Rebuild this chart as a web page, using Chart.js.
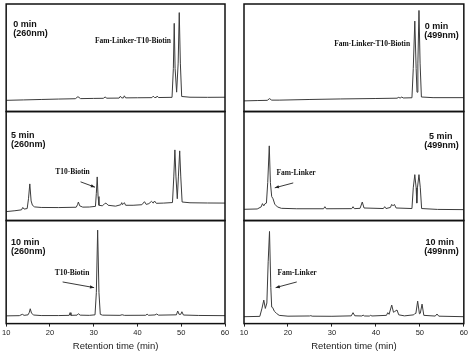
<!DOCTYPE html>
<html><head><meta charset="utf-8">
<script src="https://cdn.jsdelivr.net/npm/chart.js@4"></script>
<style>
html,body{margin:0;padding:0;background:#fff;}
#wrap{position:relative;width:470px;height:353px;overflow:hidden;background:#fff;}
canvas{position:absolute;top:0;}
</style></head><body>
<div id="wrap">
<canvas id="cL" width="235" height="353" style="left:0px"></canvas>
<canvas id="cR" width="235" height="353" style="left:235px"></canvas>
</div>
<script>
// ---- data (retention time in min, relative absorbance) ----
const xTicks = [10, 20, 30, 40, 50, 60];
const axisTitle = 'Retention time (min)';

const trace260_0min = [[10,10.4],[14,10.8],[18,11.2],[22,11.6],[25.8,11.9],[26.4,13.8],[27,12],[30,12.2],[32.2,12.3],[32.6,13.5],[33,12.4],[35.8,12.5],[36.1,14.2],[36.4,12.6],[36.8,12.7],[37.0,14.6],[37.3,12.7],[40,12.8],[43.3,12.9],[43.6,14.3],[43.9,13],[44.3,13.1],[44.5,14.4],[44.8,13],[47.9,13.2],[48.2,40],[48.4,82],[48.6,40],[48.95,18],[49.3,45],[49.55,92],[49.8,45],[50.1,14],[52,13.3],[56,13.2],[60,13.3]];
const trace260_5min = [[10,8.2],[12,9],[13.5,9.8],[13.8,12],[14.1,10.5],[14.8,11],[15.1,20],[15.4,33.6],[15.7,18],[16,14],[16.5,12.5],[18,12],[22,11.9],[26,12.2],[26.3,14.5],[26.5,17],[26.8,13.5],[27.5,12.3],[29,12.4],[30.4,13],[30.6,25],[30.8,40],[31.0,22],[31.2,14],[32,13.5],[32.5,15.5],[32.8,16],[33.3,14],[35,13.2],[36.2,14.5],[36.4,16.4],[36.6,14.6],[36.8,15.5],[37.0,16.4],[37.3,14],[39,14],[41,14.5],[41.6,17.3],[42,14.8],[42.6,15.5],[43.2,17.6],[43.6,16],[43.9,17.9],[44.3,15.8],[46,16],[48,16.5],[48.3,40],[48.55,64.8],[48.8,40],[49.1,20],[49.35,40],[49.65,63.9],[49.9,40],[50.2,17],[52,16.3],[56,16.1],[60,16]];
const trace260_10min = [[10,7.5],[13,7.7],[13.7,9],[14.1,8],[15,8.5],[15.3,11],[15.5,14.4],[15.8,10],[16.3,8.3],[18,7.8],[22,7.8],[24.4,8],[24.6,10.6],[24.8,8],[26.2,8.2],[26.5,9.6],[26.9,8.2],[29,8],[30.3,8.5],[30.6,30],[30.9,90.7],[31.2,30],[31.5,9],[32,8.2],[36,8],[36.5,8.6],[37,8],[41.9,8.1],[42.2,9.2],[42.5,8.1],[44,8.4],[44.4,9.3],[44.8,8.2],[48.9,8.5],[49.2,12.2],[49.5,9],[49.9,9],[50.15,11.5],[50.5,8.3],[54,7.9],[60,7.7]];

const trace499_0min = [[10,9.9],[13,10.2],[15.3,10.4],[15.8,12],[16.3,10.6],[18,10.6],[25,11.2],[32,11.7],[40,12.1],[44.8,12.4],[45.2,13.2],[45.5,12.5],[45.9,13.5],[46.2,12.6],[48.2,12.8],[48.5,40],[48.85,84.1],[49.15,40],[49.35,18],[49.55,45],[49.8,94],[50.05,45],[50.35,13.5],[53,12.9],[60,12.9]];
const trace499_5min = [[10,10.3],[13,10.6],[13.9,12.5],[14.2,15.5],[14.5,13.5],[14.8,15.5],[15.1,16],[15.4,35],[15.75,68.5],[16.0,35],[16.3,22],[16.6,20],[17,15],[17.6,12.5],[18.5,11.2],[22,10.8],[28.1,10.8],[28.4,12.7],[28.7,10.8],[34.5,10.9],[34.8,12.7],[35.1,10.9],[36.4,11.2],[36.9,17],[37.3,11.5],[41.7,11],[42,12.7],[42.3,11],[43.3,12],[43.6,14.8],[43.9,13.5],[44.2,14.8],[44.6,11.5],[48.2,11],[48.5,30],[48.85,42.1],[49.15,30],[49.3,16],[49.45,30],[49.8,42.1],[50.1,30],[50.4,11],[54,10.2],[60,10]];
const trace499_10min = [[10,6.7],[13.6,7],[14.1,15],[14.5,22.8],[14.85,14.7],[15.2,20],[15.5,60],[15.8,89.4],[16.1,35],[16.3,16],[16.5,15.7],[16.9,12],[17.4,9.9],[18,8],[20,7.2],[24.9,7.4],[25.2,7.7],[25.5,7.2],[30,7.1],[34.4,7.5],[34.8,10.6],[35.2,7.6],[36.8,7.4],[37.1,8.2],[37.4,7.4],[38.5,7.3],[38.8,8],[39.1,7.4],[42.4,8],[42.7,10.6],[43.0,9],[43.6,18],[44.0,11],[44.2,11.5],[44.8,13.2],[45.2,8.5],[46.5,7.5],[48.6,8.5],[48.9,9.9],[49.1,10],[49.5,21.8],[49.9,9.5],[50.1,10],[50.5,18.9],[50.9,8],[53.5,7.3],[53.9,9.3],[54.3,7.2],[60,6.7]];

const panelTimes = ['0 min', '5 min', '10 min'];
const wavelengths = ['(260nm)', '(499nm)'];
const peakNames = ['Fam-Linker-T10-Biotin', 'T10-Biotin', 'Fam-Linker'];

// ---- plugin: panel boxes, labels, arrows ----
const panelPlugin = {
  id: 'panels',
  afterDraw(chart) {
    const ctx = chart.ctx, ca = chart.chartArea;
    const cfg = chart.options.plugins.panels;
    const xs = chart.scales.x;
    ctx.save();
    ctx.strokeStyle = '#111';
    ctx.lineWidth = 1.5;
    ['y0', 'y1', 'y2'].forEach(id => {
      const s = chart.scales[id];
      ctx.strokeRect(ca.left, s.top, ca.right - ca.left, s.bottom - s.top);
    });
    cfg.texts.forEach(t => {
      const ys = chart.scales[t.axis];
      ctx.font = t.font;
      ctx.fillStyle = '#111';
      ctx.textAlign = 'left';
      ctx.textBaseline = 'alphabetic';
      ctx.fillText(t.text, xs.getPixelForValue(t.t), ys.getPixelForValue(t.v));
    });
    cfg.arrows.forEach(a => {
      const ys = chart.scales[a.axis];
      const x1 = xs.getPixelForValue(a.from[0]), y1 = ys.getPixelForValue(a.from[1]);
      const x2 = xs.getPixelForValue(a.to[0]), y2 = ys.getPixelForValue(a.to[1]);
      ctx.strokeStyle = '#222'; ctx.fillStyle = '#222'; ctx.lineWidth = 0.9;
      ctx.beginPath(); ctx.moveTo(x1, y1); ctx.lineTo(x2, y2); ctx.stroke();
      const ang = Math.atan2(y2 - y1, x2 - x1), L = 4.5, W = 0.38;
      ctx.beginPath();
      ctx.moveTo(x2, y2);
      ctx.lineTo(x2 - L * Math.cos(ang - W), y2 - L * Math.sin(ang - W));
      ctx.lineTo(x2 - L * Math.cos(ang + W), y2 - L * Math.sin(ang + W));
      ctx.closePath(); ctx.fill();
    });
    ctx.restore();
  }
};

const labelFont = 'bold 9px "Liberation Sans", Arial, sans-serif';
const peakFont = 'bold 7.5px "Liberation Serif", "Times New Roman", serif';

function yAxis(weight) {
  return { type: 'linear', display: false, min: 0, max: 100, position: 'right', stack: 'col', stackWeight: weight };
}

function makeChart(id, traces, pad, texts, arrows) {
  const ds = traces.map((tr, i) => ({
    data: tr.map(p => ({ x: p[0], y: p[1] })),
    yAxisID: 'y' + i,
    borderColor: '#3c3c3c', borderWidth: 1, pointRadius: 0, tension: 0, fill: false
  }));
  return new Chart(document.getElementById(id), {
    type: 'line',
    data: { datasets: ds },
    options: {
      responsive: false, animation: false, devicePixelRatio: 1,
      layout: { padding: pad },
      plugins: { legend: { display: false }, tooltip: { enabled: false }, panels: { texts, arrows } },
      scales: {
        x: {
          type: 'linear', min: xTicks[0], max: xTicks[xTicks.length - 1],
          afterBuildTicks: ax => { ax.ticks = xTicks.map(v => ({ value: v })); },
          grid: { drawOnChartArea: false, drawTicks: true, tickLength: 3, color: '#222' },
          border: { display: false },
          ticks: { color: '#222', padding: 2, maxRotation: 0, font: { family: '"Liberation Sans", Arial, sans-serif', size: 7.5 } },
          title: { display: true, text: axisTitle, color: '#222', padding: { top: 1, bottom: 0 }, font: { family: '"Liberation Sans", Arial, sans-serif', size: 9.5 } }
        },
        y0: yAxis(108.5), y1: yAxis(110), y2: yAxis(104)
      }
    },
    plugins: [panelPlugin]
  });
}

makeChart('cL', [trace260_0min, trace260_5min, trace260_10min], { left: 5, right: 10, top: 4, bottom: 1 },
  [
    { axis: 'y0', t: 11.6, v: 79, text: panelTimes[0], font: labelFont },
    { axis: 'y0', t: 11.6, v: 70, text: wavelengths[0], font: labelFont },
    { axis: 'y0', t: 30.3, v: 63.6, text: peakNames[0], font: peakFont },
    { axis: 'y1', t: 11.1, v: 76.1, text: panelTimes[1], font: labelFont },
    { axis: 'y1', t: 11.1, v: 67.3, text: wavelengths[0], font: labelFont },
    { axis: 'y1', t: 21.2, v: 43, text: peakNames[1], font: peakFont },
    { axis: 'y2', t: 11.1, v: 76.6, text: panelTimes[2], font: labelFont },
    { axis: 'y2', t: 11.1, v: 67.8, text: wavelengths[0], font: labelFont },
    { axis: 'y2', t: 21.1, v: 46.8, text: peakNames[1], font: peakFont }
  ],
  [
    { axis: 'y1', from: [27.0, 35.5], to: [30.3, 30.6] },
    { axis: 'y2', from: [22.9, 40.4], to: [30.1, 34.9] }
  ]);

makeChart('cR', [trace499_0min, trace499_5min, trace499_10min], { left: 9, right: 6, top: 4, bottom: 1 },
  [
    { axis: 'y0', t: 51.1, v: 77.1, text: panelTimes[0], font: labelFont },
    { axis: 'y0', t: 51.0, v: 68.2, text: wavelengths[1], font: labelFont },
    { axis: 'y0', t: 30.5, v: 61.1, text: peakNames[0], font: peakFont },
    { axis: 'y1', t: 52.1, v: 74.8, text: panelTimes[1], font: labelFont },
    { axis: 'y1', t: 51.0, v: 66.4, text: wavelengths[1], font: labelFont },
    { axis: 'y1', t: 17.4, v: 42.1, text: peakNames[2], font: peakFont },
    { axis: 'y2', t: 51.3, v: 76.6, text: panelTimes[2], font: labelFont },
    { axis: 'y2', t: 51.0, v: 67.8, text: wavelengths[1], font: labelFont },
    { axis: 'y2', t: 17.6, v: 46.8, text: peakNames[2], font: peakFont }
  ],
  [
    { axis: 'y1', from: [21.2, 34.5], to: [17.0, 30] },
    { axis: 'y2', from: [22.0, 40.4], to: [17.2, 34.9] }
  ]);
</script>
</body></html>
